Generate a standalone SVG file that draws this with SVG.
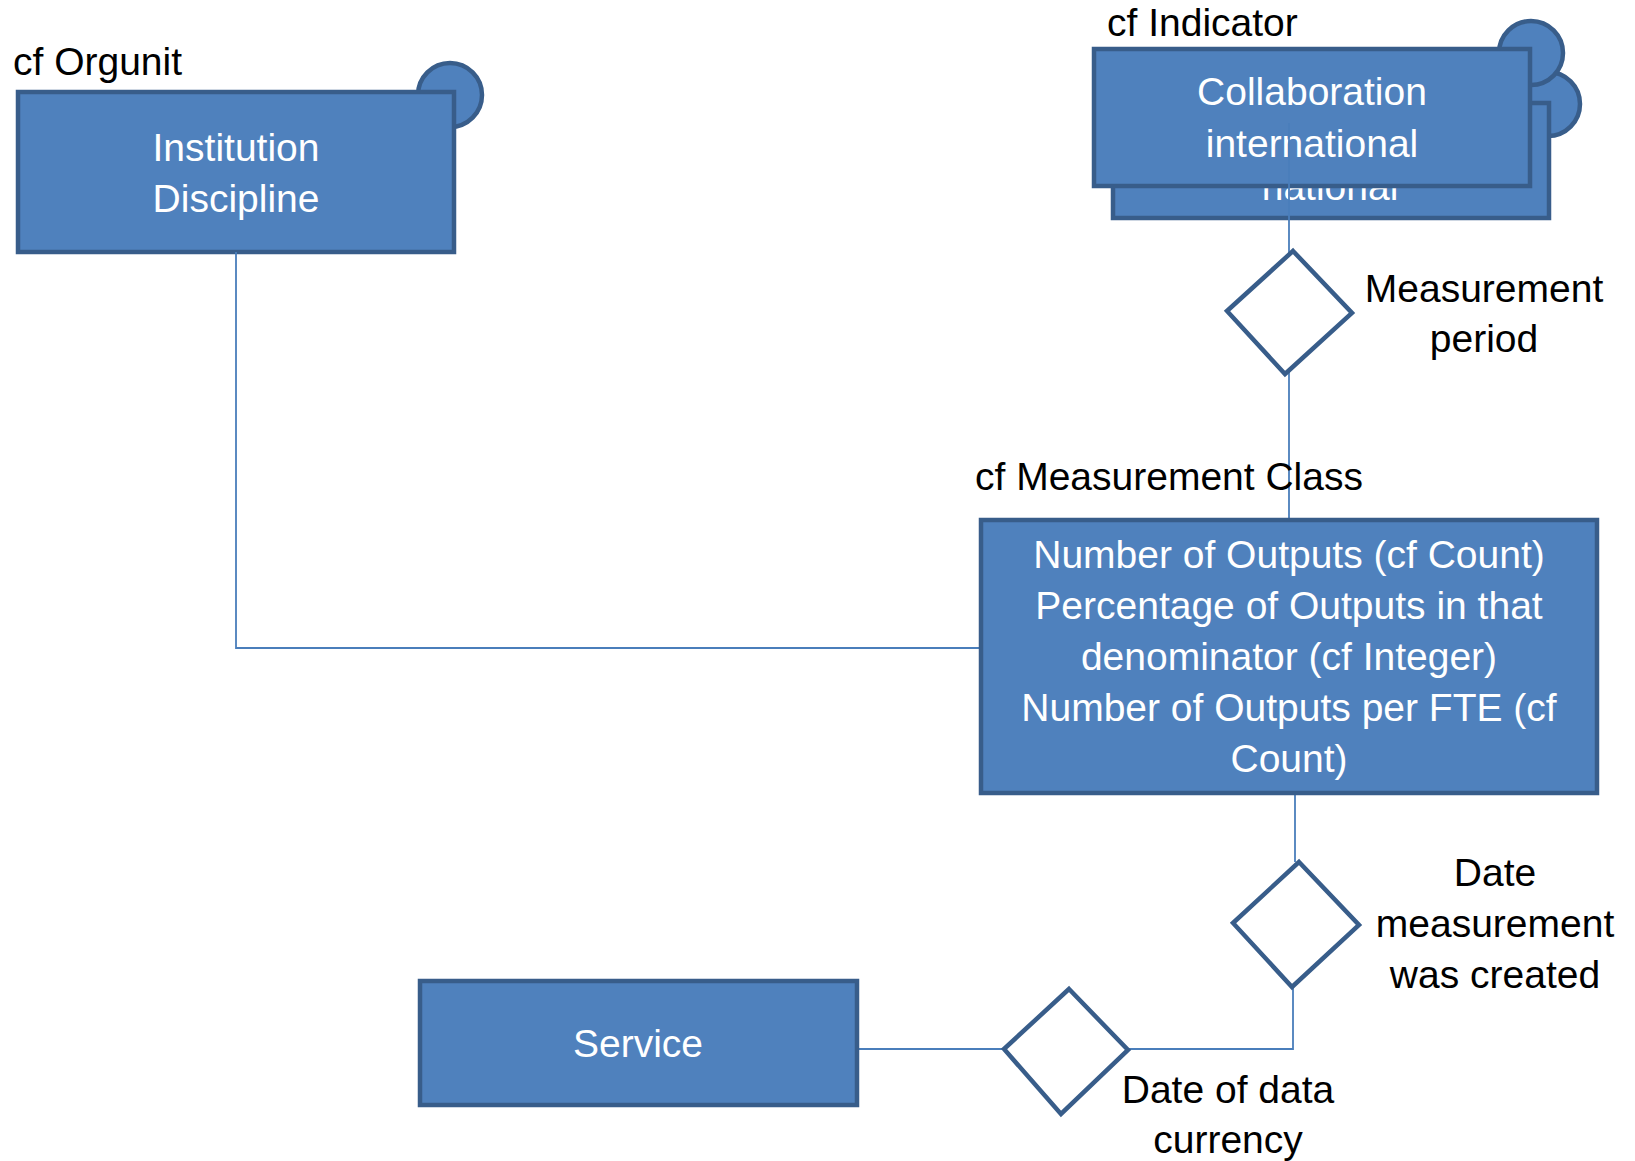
<svg xmlns="http://www.w3.org/2000/svg" width="1635" height="1161" viewBox="0 0 1635 1161">
<style>
.box{fill:#4f81bd;stroke:#385d8a;stroke-width:4.5}
.dia{fill:#ffffff;stroke:#385d8a;stroke-width:4.5;stroke-linejoin:miter}
.con{fill:none;stroke:#4a7ebb;stroke-width:1.8}
text{font-family:"Liberation Sans",Arial,sans-serif;font-size:39px}
.w{fill:#ffffff;text-anchor:middle}
.k{fill:#000000}
.c{fill:#000000;text-anchor:middle}
</style>
<rect width="1635" height="1161" fill="#ffffff"/>
<g id="orgunit">
<circle class="box" cx="450" cy="95" r="32"/>
<rect class="box" x="18" y="92" width="436" height="160"/>
<text class="k" x="13" y="75">cf Orgunit</text>
<text class="w" x="236" y="161">Institution</text>
<text class="w" x="236" y="212">Discipline</text>
</g>
<g id="indicator-back">
<circle class="box" cx="1548" cy="104" r="32"/>
<rect class="box" x="1113" y="103" width="436" height="115"/>
<text class="w" x="1330" y="200">national</text>
</g>
<g id="indicator">
<circle class="box" cx="1531" cy="53" r="32"/>
<rect class="box" x="1094" y="49" width="436" height="137"/>
<text class="k" x="1107" y="36">cf Indicator</text>
<text class="w" x="1312" y="105">Collaboration</text>
<text class="w" x="1312" y="157">international</text>
</g>
<g id="connectors">
<polyline class="con" points="236,252 236,648 981,648"/>
<line class="con" x1="1289" y1="123" x2="1289" y2="519"/>
<line class="con" x1="1295" y1="793" x2="1295" y2="862"/>
<polyline class="con" points="1293,986 1293,1049 1128,1049"/>
<line class="con" x1="1004" y1="1049" x2="857" y2="1049"/>
</g>
<g id="measurement-period">
<polygon class="dia" points="1293,251 1352,313 1285,374 1227,311"/>
<text class="c" x="1484" y="302">Measurement</text>
<text class="c" x="1484" y="352">period</text>
</g>
<g id="measurement-class">
<rect class="box" x="981" y="520" width="616" height="273"/>
<text class="k" x="975" y="490">cf Measurement Class</text>
<text class="w" x="1289" y="568">Number of Outputs (cf Count)</text>
<text class="w" x="1289" y="619">Percentage of Outputs in that</text>
<text class="w" x="1289" y="670">denominator (cf Integer)</text>
<text class="w" x="1289" y="721">Number of Outputs per FTE (cf</text>
<text class="w" x="1289" y="772">Count)</text>
</g>
<g id="date-created">
<polygon class="dia" points="1299,862 1359,925 1292,987 1233,923"/>
<text class="c" x="1495" y="886">Date</text>
<text class="c" x="1495" y="937">measurement</text>
<text class="c" x="1495" y="988">was created</text>
</g>
<g id="date-currency">
<polygon class="dia" points="1069,989 1128,1050 1061,1114 1004,1049"/>
<text class="c" x="1228" y="1103">Date of data</text>
<text class="c" x="1228" y="1153">currency</text>
</g>
<g id="service">
<rect class="box" x="420" y="981" width="437" height="124"/>
<text class="w" x="638" y="1057">Service</text>
</g>
</svg>
